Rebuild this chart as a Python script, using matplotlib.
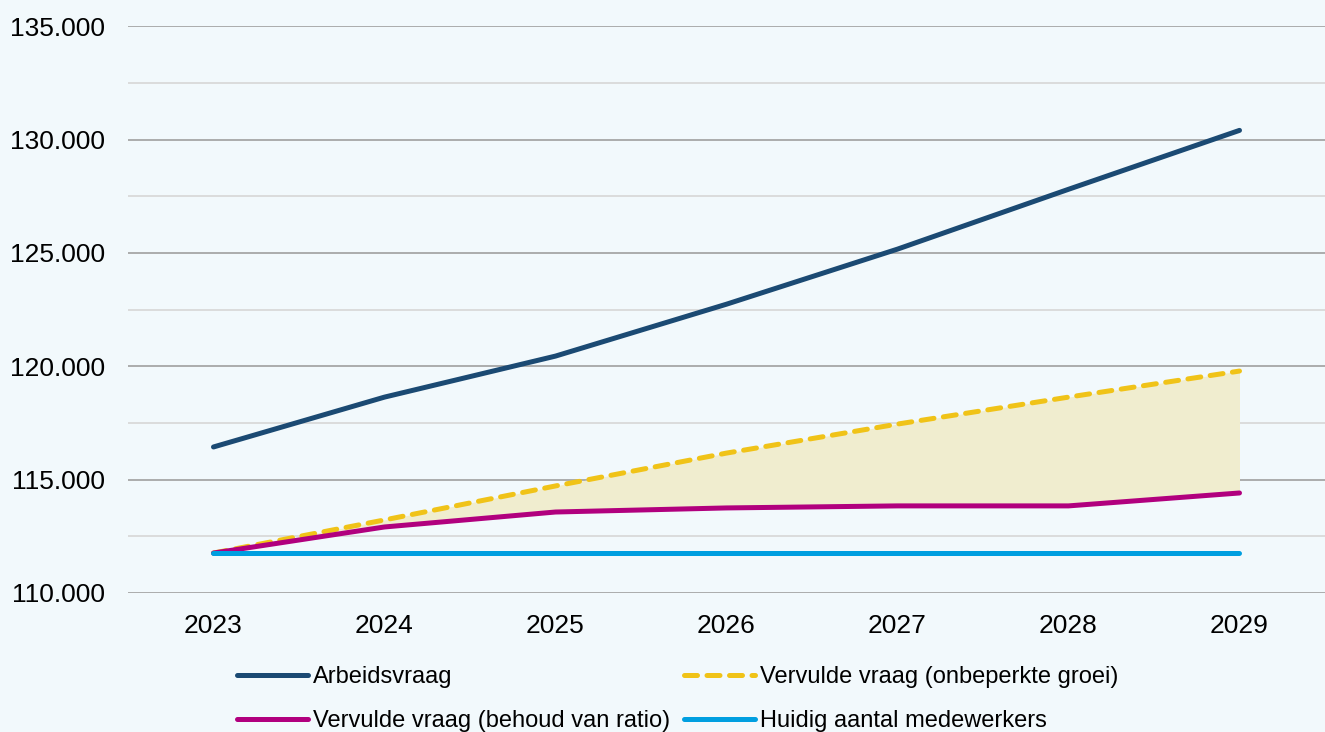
import numpy as np
import matplotlib.pyplot as plt
from matplotlib.ticker import FuncFormatter, MultipleLocator

plt.rcParams['font.family'] = ['Liberation Sans', 'DejaVu Sans']

# data
jaren = ['2023', '2024', '2025', '2026', '2027', '2028', '2029']
arbeidsvraag = [116440, 118640, 120450, 122740, 125170, 127810, 130410]
onbeperkt = [111760, 113220, 114720, 116170, 117450, 118640, 119790]
behoud_ratio = [111760, 112910, 113570, 113750, 113840, 113840, 114410]
huidig = [111760, 111760, 111760, 111760, 111760, 111760, 111760]

achtergrond = '#f2f9fc'

fig = plt.figure(figsize=(13.25, 7.32), dpi=100, facecolor=achtergrond)
ax = fig.add_axes([0.0966, 0.19, 0.9034, 0.774])
ax.set_facecolor(achtergrond)

x = np.arange(len(jaren))

ax.fill_between(x, behoud_ratio, onbeperkt, color='#f0edcf', zorder=1, linewidth=0)
l1, = ax.plot(x, arbeidsvraag, color='#1b4a73', lw=3.6, solid_capstyle='round', label='Arbeidsvraag', zorder=3)
l2, = ax.plot(x, onbeperkt, color='#f0c318', lw=3.6, dashes=(2.6, 1.9), dash_capstyle='round',
              label='Vervulde vraag (onbeperkte groei)', zorder=3)
l3, = ax.plot(x, behoud_ratio, color='#b1007e', lw=3.6, solid_capstyle='round',
              label='Vervulde vraag (behoud van ratio)', zorder=3)
l4, = ax.plot(x, huidig, color='#009fe0', lw=3.6, solid_capstyle='round', label='Huidig aantal medewerkers', zorder=3)

ax.set_xlim(-0.5, 6.5)
ax.set_ylim(110000, 135000)
ax.set_xticks(x)
ax.set_xticklabels(jaren)
ax.yaxis.set_major_locator(MultipleLocator(5000))
ax.yaxis.set_minor_locator(MultipleLocator(2500))
ax.yaxis.set_major_formatter(FuncFormatter(lambda v, p: f'{int(v):,}'.replace(',', '.')))
ax.grid(axis='y', which='major', color='#a6a6a6', lw=1.3, zorder=0)
ax.grid(axis='y', which='minor', color='#d9d9d9', lw=1.3, zorder=0)
ax.set_axisbelow(True)
for s in ax.spines.values():
    s.set_visible(False)
ax.tick_params(axis='both', which='both', length=0, labelsize=19)
ax.tick_params(axis='y', pad=16.5)
ax.tick_params(axis='x', pad=15)

# row-wise order as in the reference
ax.legend([l1, l3, l2, l4], [l1.get_label(), l3.get_label(), l2.get_label(), l4.get_label()],
          loc='upper left', bbox_to_anchor=(0.172, 0.103), bbox_transform=fig.transFigure,
          ncol=2, frameon=False, fontsize=17, handlelength=3.0, handletextpad=0.2,
          columnspacing=0.6, labelspacing=0.95, borderaxespad=0)

fig.savefig('out.png', dpi=100, facecolor=achtergrond)
